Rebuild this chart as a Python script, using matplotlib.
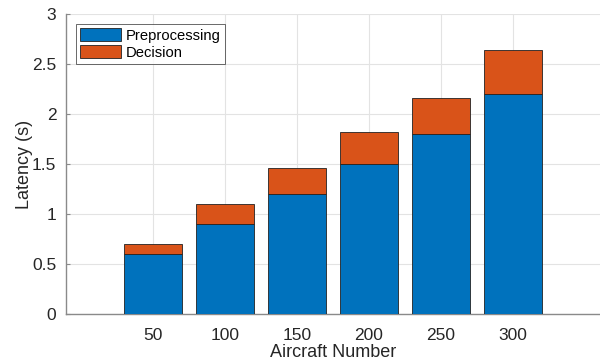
import matplotlib
matplotlib.use("Agg")
import matplotlib.pyplot as plt
import numpy as np

aircraft = [50, 100, 150, 200, 250, 300]
preprocessing = [0.6, 0.9, 1.2, 1.5, 1.8, 2.2]
decision = [0.1, 0.2, 0.26, 0.32, 0.36, 0.44]
yticks = [0, 0.5, 1, 1.5, 2, 2.5, 3]
ytick_labels = ["0", "0.5", "1", "1.5", "2", "2.5", "3"]

plt.rcParams['font.family'] = ['Liberation Sans', 'DejaVu Sans']

fig = plt.figure(figsize=(6, 3.64), dpi=100)
ax = fig.add_axes([0.11, 50/364, 0.89, 300/364])

blue = '#0072BD'
orange = '#D95319'
edge = '#222222'
ax.bar(aircraft, preprocessing, width=40, color=blue, edgecolor=edge, linewidth=0.6,
       label='Preprocessing', zorder=3)
ax.bar(aircraft, decision, width=40, bottom=preprocessing, color=orange, edgecolor=edge,
       linewidth=0.6, label='Decision', zorder=3)

ax.set_xlim(-10.4, 360.4)
ax.set_ylim(0, 3)
ax.set_xticks(aircraft)
ax.set_xticklabels([str(a) for a in aircraft])
ax.set_yticks(yticks)
ax.set_yticklabels(ytick_labels)

ax.grid(True, color='#e3e3e3', linewidth=0.8, zorder=0)
ax.set_axisbelow(True)
for s in ['top', 'right']:
    ax.spines[s].set_visible(False)
for s in ['left', 'bottom']:
    ax.spines[s].set_color('#8a8a8a')
    ax.spines[s].set_linewidth(1.0)
ax.tick_params(direction='in', length=3, color='#8a8a8a', labelsize=12.5,
               labelcolor='#262626')
ax.tick_params(axis='x', pad=10)
ax.tick_params(axis='y', pad=7)

ax.set_xlabel('Aircraft Number', fontsize=13, color='#262626', labelpad=1)
ax.set_ylabel('Latency (s)', fontsize=13, color='#262626', labelpad=-1)

leg = ax.legend(loc='upper left', bbox_to_anchor=(0.018, 0.967), fontsize=10.6,
                frameon=True, fancybox=False, edgecolor='#262626',
                handlelength=2.8, handleheight=1.0, handletextpad=0.3,
                borderpad=0.3, labelspacing=0.15, borderaxespad=0)
leg.get_frame().set_linewidth(0.6)

fig.savefig('out.png', dpi=100)
